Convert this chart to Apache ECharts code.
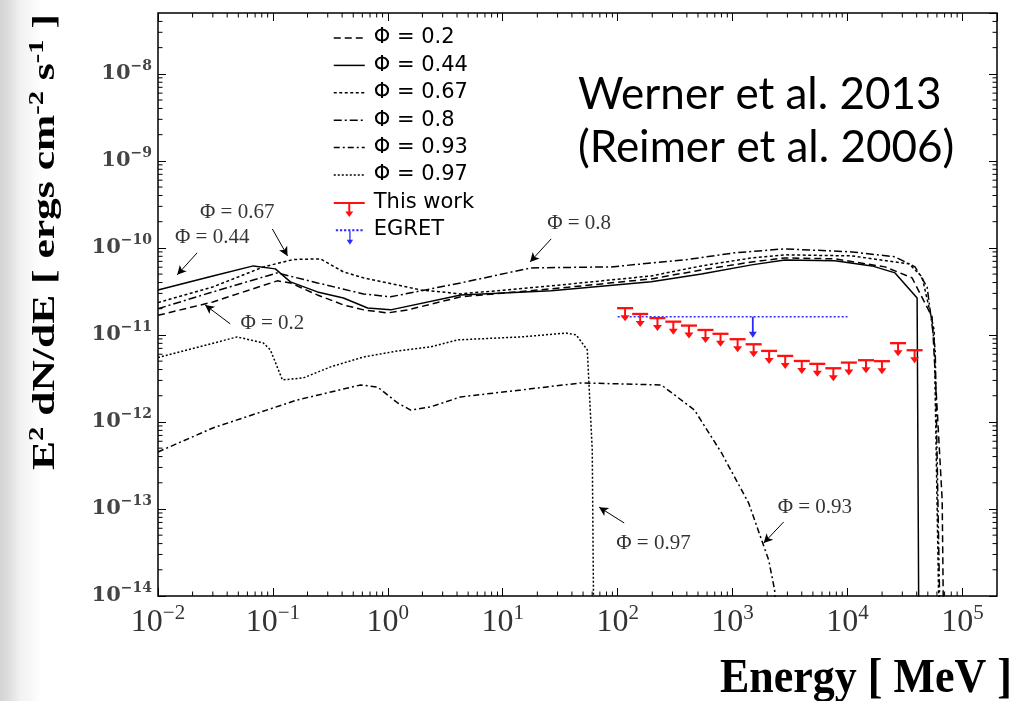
<!DOCTYPE html>
<html><head><meta charset="utf-8">
<script src="https://cdn.jsdelivr.net/npm/echarts@6/dist/echarts.min.js"></script>
<style>
html,body{margin:0;padding:0;width:1015px;height:701px;overflow:hidden;
background:linear-gradient(90deg,#d4d4d4 0px,#dedede 9px,#f1f1f1 20px,#ffffff 42px);}
#c{width:1015px;height:701px;}
</style></head><body><div id="c"></div>
<script>
// ---- model curves: [Energy (MeV), E^2 dN/dE (erg cm^-2 s^-1)] ----
const phi020 = [[0.01,1.68e-11],[0.030,2.39e-11],[0.109,4.18e-11],[0.142,3.96e-11],[0.244,2.88e-11],[0.411,2.21e-11],[0.615,1.94e-11],[1.0,1.79e-11],[1.49,1.94e-11],[4.31,2.74e-11],[26.4,3.38e-11],[196,4.40e-11],[536,5.58e-11],[1466,6.90e-11],[2844,7.67e-11],[7762,7.48e-11],[21180,6.05e-11],[36480,4.52e-11],[54450,1.61e-11],[66680,1.27e-13],[69340,1e-15]];
const phi044 = [[0.01,3.29e-11],[0.030,4.76e-11],[0.0675,6.21e-11],[0.105,5.74e-11],[0.142,4.07e-11],[0.244,3.12e-11],[0.411,2.66e-11],[0.667,2.04e-11],[1.057,1.94e-11],[4.31,2.88e-11],[26.4,3.21e-11],[196,4.07e-11],[536,5.02e-11],[1466,6.38e-11],[2844,7.28e-11],[7762,7.10e-11],[16330,6.21e-11],[25940,5.16e-11],[40360,2.66e-11],[41980,1e-15]];
const phi067 = [[0.01,2.35e-11],[0.030,3.56e-11],[0.083,6.05e-11],[0.150,7.35e-11],[0.259,7.48e-11],[0.411,5.30e-11],[0.615,4.52e-11],[1.93,3.29e-11],[4.31,2.96e-11],[26.4,3.66e-11],[196,4.76e-11],[536,6.21e-11],[1466,7.67e-11],[2844,8.32e-11],[10910,8.09e-11],[34360,6.55e-11],[44570,4.64e-11],[56750,1.14e-11],[63970,1e-15]];
const phi080 = [[0.01,2.00e-11],[0.030,3.12e-11],[0.109,5.16e-11],[0.244,3.96e-11],[0.615,2.95e-11],[1.057,2.74e-11],[4.31,3.96e-11],[17.6,5.89e-11],[87.9,6.05e-11],[381,7.28e-11],[1040,8.77e-11],[2844,9.75e-11],[10910,8.99e-11],[25940,7.89e-11],[38730,6.05e-11],[49320,3.56e-11],[57990,6.73e-12],[65310,1e-15]];
const phi093 = [[0.01,4.52e-13],[0.030,8.53e-13],[0.163,1.79e-12],[0.580,2.66e-12],[0.815,2.52e-12],[1.22,1.65e-12],[1.58,1.37e-12],[2.36,1.49e-12],[4.31,1.94e-12],[14.4,2.33e-12],[48.1,2.81e-12],[240,2.66e-12],[466,1.37e-12],[802,4.40e-13],[1380,1.17e-13],[2061,2.59e-14],[2323,1.17e-14],[2500,1e-15]];
const phi097 = [[0.01,5.50e-12],[0.0488,9.48e-12],[0.0824,8.09e-12],[0.095,6.73e-12],[0.121,3.04e-12],[0.184,3.21e-12],[0.317,4.29e-12],[0.615,5.58e-12],[1.22,6.55e-12],[2.36,7.28e-12],[4.06,8.77e-12],[14.4,9.48e-12],[35.6,1.05e-11],[43.6,1.0e-11],[54.4,6.73e-12],[60.1,4.76e-13],[62.5,1e-15]];

// ---- upper limits ----
const thisWork = [[116,2.03e-11],[157,1.74e-11],[222,1.56e-11],[305,1.42e-11],[417,1.28e-11],[581,1.14e-11],[785,1.03e-11],[1106,8.93e-12],[1525,7.81e-12],[2080,6.55e-12],[2870,5.74e-12],[4000,5.02e-12],[5460,4.65e-12],[7530,4.14e-12],[10280,4.81e-12],[14490,5.12e-12],[19950,4.99e-12],[27540,8.04e-12],[38370,6.67e-12]];
// [E low, E high, E arrow, limit, arrow tip]
const egret = [[100,10000,1500,1.62e-11,9.25e-12]];

// ---- annotations ----
const annotLabels = [['Φ = 0.67',0.0489,2.52e-10],['Φ = 0.44',0.0296,1.30e-10],['Φ = 0.2',0.0989,1.34e-11],['Φ = 0.8',46.2,1.89e-10],['Φ = 0.93',5200,1.03e-13],['Φ = 0.97',205,4.06e-14]];
const annotArrows = [[[0.0989,1.65e-10],[0.134,8.09e-11]],[[0.0219,8.77e-11],[0.0147,4.90e-11]],[[0.0425,1.34e-11],[0.0257,2.21e-11]],[[26.4,1.27e-10],[17.3,6.90e-11]],[[2786,7.10e-14],[1866,4.06e-14]],[[114,6.90e-14],[69.0,1.05e-13]]];

const seriesNames = ['Φ = 0.2','Φ = 0.44','Φ = 0.67','Φ = 0.8','Φ = 0.93','Φ = 0.97'];
const seriesDash = ['dash', 'solid', 'dotA', 'dashdotA', 'dashdotB', 'dotB'];
const xMin = 0.01, xMax = 2e5, yMin = 1e-14, yMax = 5e-8;

const DASH = {dash:[7,4], solid:'solid', dotA:[3,2.5], dashdotA:[8,3,2,3], dashdotB:[6,3,2,3], dotB:[2,2]};

// minor ticks (axis decoration)
const minorTicks = [];
for (let d=-2; d<=5; d++) for (let k=2;k<=9;k++){ const v=k*Math.pow(10,d); if (v<xMax) minorTicks.push([v,1e-10,0]); }
for (let d=-14; d<=-8; d++) for (let k=2;k<=9;k++){ const v=k*Math.pow(10,d); if (v<yMax) minorTicks.push([1,v,1]); }

const RED = '#ff1010', BLUE = '#2a2aff';
const chart = echarts.init(document.getElementById('c'));

function lineSeries(name, data, dash){
  return {name, type:'line', data, symbol:'none', clip:true, animation:false, z:3,
    lineStyle:{color:'#000', width:1.5, type:dash}, itemStyle:{color:'#000'}};
}
function expLabel(v){
  const e = Math.round(Math.log10(v));
  return '{b|10}{s|' + (e<0 ? '\u2212'+(-e) : e) + '}';
}
let dots=''; for (let i=0;i*4.5<30;i++){ dots += 'M'+(i*4.5)+',-1h2.5v2h-2.5z '; }
const redIcon = 'path://M15.5,-15L15.5,-15 M0,-1H31V1H0Z M14.5,1H16.5V9H14.5Z M11.5,8.5H19.5L15.5,14Z';
const blueIcon = 'path://M15.5,-17L15.5,-17 ' + dots + 'M14.8,1H16.2V11H14.8Z M12,10.5H19L15.5,16Z';

const xLabelRich = {b:{fontFamily:'Liberation Serif',fontSize:32,color:'#333'},
                    s:{fontFamily:'Liberation Serif',fontSize:21,color:'#333',padding:[0,0,18,0]}};
const yLabelRich = {b:{fontFamily:'DejaVu Serif',fontWeight:'bold',fontSize:21,color:'#444'},
                    s:{fontFamily:'DejaVu Serif',fontWeight:'bold',fontSize:14,color:'#444',padding:[0,0,15,0]}};
function xAx(pos, showLabel){
  return {type:'log', min:xMin, max:xMax, position:pos, logBase:10,
    axisLine:{show:false}, splitLine:{show:false},
    axisTick:{show:true, inside:true, length:8, lineStyle:{color:'#000', width:1}},
    axisLabel:{show:showLabel, showMaxLabel:false, margin:7, formatter:expLabel, rich:xLabelRich}};
}
function yAx(pos, showLabel){
  return {type:'log', min:yMin, max:yMax, position:pos, logBase:10,
    axisLine:{show:false}, splitLine:{show:false},
    axisTick:{show:true, inside:true, length:8, lineStyle:{color:'#000', width:1}},
    axisLabel:{show:showLabel, showMaxLabel:false, margin:6, formatter:expLabel, rich:yLabelRich}};
}

const legendData = seriesNames.map((n,i) => ({name:n,
    itemStyle:{color:'rgba(0,0,0,0)', borderColor:'rgba(0,0,0,0)', borderWidth:0},
    lineStyle:{color:'#000', width:1.5, type:DASH[seriesDash[i]]}}))
  .concat([
    {name:'This work', icon:redIcon, itemStyle:{color:RED, borderWidth:0}},
    {name:'EGRET', icon:blueIcon, itemStyle:{color:BLUE, borderWidth:0}}]);

const option = {
  animation:false,
  backgroundColor:'transparent',
  grid:{left:158, right:18, top:13, bottom:105, show:true, borderColor:'#000', borderWidth:1.5, backgroundColor:'transparent'},
  xAxis:[xAx('bottom',true), xAx('top',false)],
  yAxis:[yAx('left',true), yAx('right',false)],
  legend:{
    orient:'vertical', left:328, top:18, itemWidth:31, itemHeight:30, itemGap:-2.6,
    selectedMode:false,
    textStyle:{fontFamily:'DejaVu Sans', fontSize:21, lineHeight:30, color:'#000', padding:[0,0,0,4]},
    data: legendData
  },
  graphic:[
    {type:'text', x:578, y:95, style:{text:'Werner et al. 2013', fontFamily:'Lato', fontSize:44, fill:'#000', align:'left', verticalAlign:'middle'}},
    {type:'text', x:578, y:148, style:{text:'(Reimer et al. 2006)', fontFamily:'Lato', fontSize:44, fill:'#000', align:'left', verticalAlign:'middle'}},
    {type:'text', x:46, y:242, rotation:Math.PI/2, scaleX:1.36,
      style:{text:'E{s|2} dN/dE [ ergs cm{s|-2} s{s|-1} ]', fontFamily:'Liberation Serif', fontWeight:'bold', fontSize:32, fill:'#000', align:'center', verticalAlign:'middle',
        rich:{s:{fontFamily:'Liberation Serif', fontWeight:'bold', fontSize:21, fill:'#000', padding:[0,0,16,0]}}}},
    {type:'text', x:1012, y:679, scaleY:1.12, style:{text:'Energy [ MeV ]', fontFamily:'Liberation Serif', fontWeight:'bold', fontSize:44, fill:'#000', align:'right', verticalAlign:'middle'}}
  ],
  series:[
    lineSeries(seriesNames[0], phi020, DASH[seriesDash[0]]),
    lineSeries(seriesNames[1], phi044, DASH[seriesDash[1]]),
    lineSeries(seriesNames[2], phi067, DASH[seriesDash[2]]),
    lineSeries(seriesNames[3], phi080, DASH[seriesDash[3]]),
    lineSeries(seriesNames[4], phi093, DASH[seriesDash[4]]),
    lineSeries(seriesNames[5], phi097, DASH[seriesDash[5]]),
    {name:'This work', type:'custom', data:thisWork, itemStyle:{color:RED}, z:5, clip:false,
      renderItem:function(params, api){
        const p = api.coord([api.value(0), api.value(1)]);
        return {type:'group', children:[
          {type:'line', shape:{x1:p[0]-8,y1:p[1],x2:p[0]+8,y2:p[1]}, style:{stroke:RED, lineWidth:2.3}},
          {type:'line', shape:{x1:p[0],y1:p[1],x2:p[0],y2:p[1]+8}, style:{stroke:RED, lineWidth:2}},
          {type:'polygon', shape:{points:[[p[0]-4.5,p[1]+7],[p[0]+4.5,p[1]+7],[p[0],p[1]+13]]}, style:{fill:RED}}
        ]};
      }},
    {name:'EGRET', type:'custom', data:egret, itemStyle:{color:BLUE}, z:4, clip:false,
      encode:{x:[0,1,2], y:[3,4]},
      renderItem:function(params, api){
        const a = api.coord([api.value(0), api.value(3)]);
        const b = api.coord([api.value(1), api.value(3)]);
        const c = api.coord([api.value(2), api.value(3)]);
        const t = api.coord([api.value(2), api.value(4)]);
        return {type:'group', children:[
          {type:'line', shape:{x1:a[0],y1:a[1],x2:b[0],y2:b[1]}, style:{stroke:BLUE, lineWidth:1.6, lineDash:[2,2]}},
          {type:'line', shape:{x1:c[0],y1:c[1],x2:t[0],y2:t[1]-5}, style:{stroke:BLUE, lineWidth:1.8}},
          {type:'polygon', shape:{points:[[t[0]-4,t[1]-6],[t[0]+4,t[1]-6],[t[0],t[1]]]}, style:{fill:BLUE}}
        ]};
      }},
    {name:'minorTicks', type:'custom', data:minorTicks, silent:true, z:6, clip:false,
      renderItem:function(params, api){
        const cs = params.coordSys, L = 4.5, st = {stroke:'#000', lineWidth:1};
        if (api.value(2) === 0){
          const x = api.coord([api.value(0), api.value(1)])[0];
          return {type:'group', children:[
            {type:'line', shape:{x1:x,y1:cs.y+cs.height,x2:x,y2:cs.y+cs.height-L}, style:st},
            {type:'line', shape:{x1:x,y1:cs.y,x2:x,y2:cs.y+L}, style:st}]};
        }
        const y = api.coord([api.value(0), api.value(1)])[1];
        return {type:'group', children:[
          {type:'line', shape:{x1:cs.x,y1:y,x2:cs.x+L,y2:y}, style:st},
          {type:'line', shape:{x1:cs.x+cs.width,y1:y,x2:cs.x+cs.width-L,y2:y}, style:st}]};
      }},
    {name:'annotations', type:'scatter', symbolSize:0, silent:true, z:7,
      data: annotLabels.map(a => ({name:a[0], value:[a[1], a[2]]})),
      label:{show:true, position:'inside', formatter:'{b}', fontFamily:'Liberation Serif', fontSize:21, color:'#000'},
      markLine:{silent:true, animation:false, symbol:['none','arrow'], symbolSize:[7,9],
        label:{show:false}, lineStyle:{color:'#000', width:1, type:'solid'},
        data: annotArrows.map(s => [{coord:s[0]},{coord:s[1]}])}}
  ]
};
chart.setOption(option);
</script>
</body></html>
